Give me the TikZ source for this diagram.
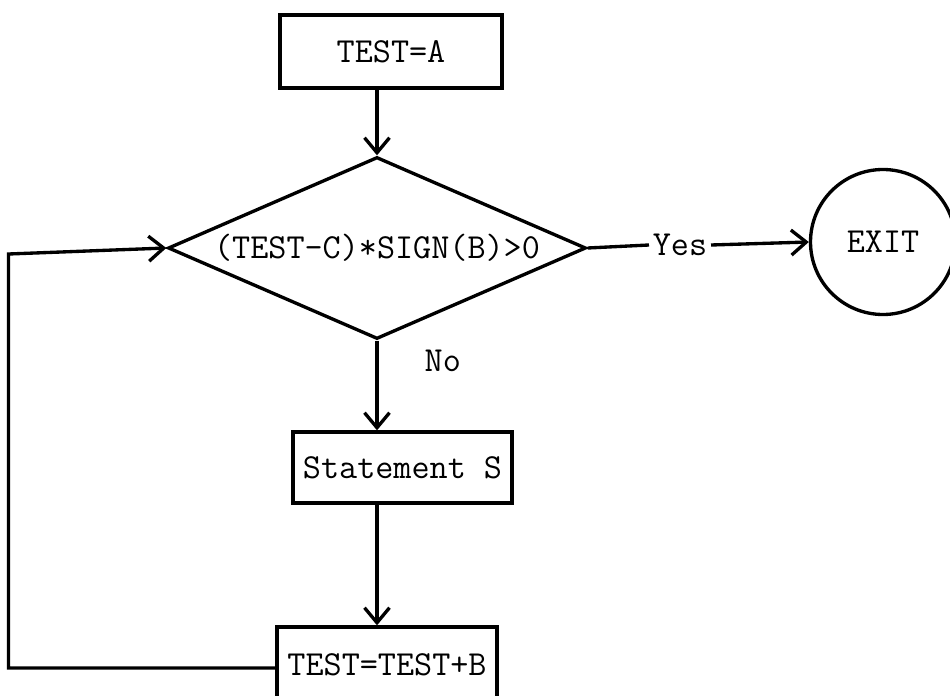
\documentclass[tikz,border=0pt]{standalone}
\usepackage{tikz}
\usetikzlibrary{arrows.meta,shapes.geometric,positioning}
\tikzstyle{arrow} = [line width=1.9pt,-{Straight Barb[length=0.3cm,width=0.5cm,line width=1.9pt]}]
\tikzstyle{line} = [line width=1.9pt]
\tikzstyle{process} = [rectangle, draw, line width=1.9pt, inner sep=0pt, text centered, font=\ttfamily\fontsize{20}{22}\selectfont]
\tikzstyle{decision} = [diamond, draw, line width=1.9pt, inner sep=0pt, aspect=2.3, minimum width=8.36cm, minimum height=3.64cm, font=\ttfamily\fontsize{20}{22}\selectfont]
\tikzstyle{terminal} = [circle, draw, line width=1.9pt, minimum size=2.9cm, font=\ttfamily\fontsize{20}{22}\selectfont]
\tikzstyle{label} = [font=\ttfamily\fontsize{20}{22}\selectfont, inner sep=2pt]

\begin{document}
\begin{tikzpicture}
\useasboundingbox (0,0) rectangle (19,-13.92);
% Blocks
\node (testa) [process, minimum width=4.44cm, minimum height=1.46cm] at (7.82,-1.03) {TEST=A};
\node (cond) [decision] at (7.54,-4.96) {(TEST-C)*SIGN(B)>0};
\node (exit) [terminal] at (17.66,-4.84) {EXIT};
\node (stmt) [process, minimum width=4.38cm, minimum height=1.42cm] at (8.05,-9.35) {Statement S};
\node (incr) [process, minimum width=4.4cm, minimum height=1.52cm] at (7.74,-13.3) {TEST=TEST+B};
\node (yes) [label] at (13.6,-4.9) {Yes};
\coordinate (loopbot) at (0.17,-13.36);
\coordinate (looptop) at (0.17,-5.08);

% Flow
\draw[arrow] (testa.south -| cond.north) -- (cond.north);
\draw[line] (cond.east) -- (yes.west);
\draw[arrow] (yes.east) -- (exit.west);
\draw[arrow] (cond.south) -- node[pos=0.22, right=0.85cm, label] (no) {No} (cond.south |- stmt.north);
\draw[arrow] (cond.south |- stmt.south) -- (cond.south |- incr.north);

% Loop back
\draw[arrow] (incr.west |- loopbot) -- (loopbot) -- (looptop) -- (cond.west);
\end{tikzpicture}
\end{document}
